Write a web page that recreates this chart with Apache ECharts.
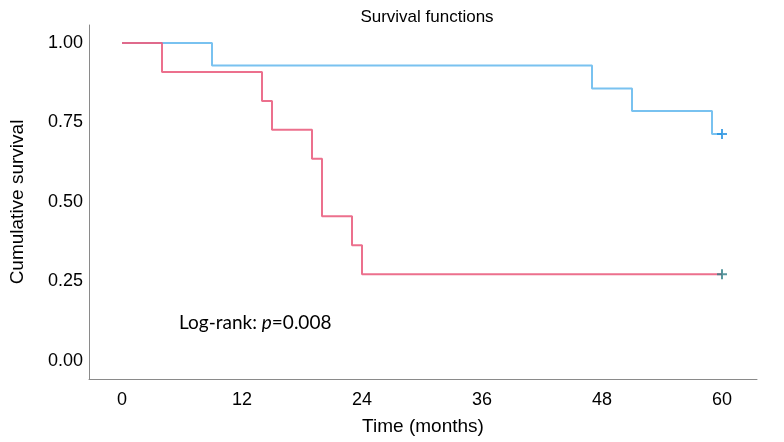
<!DOCTYPE html>
<html>
<head>
<meta charset="utf-8">
<script src="https://cdn.jsdelivr.net/npm/echarts@6/dist/echarts.min.js"></script>
<style>html,body{margin:0;padding:0;background:#fff}#c{width:784px;height:442px}</style>
</head>
<body>
<div id="c"></div>
<script>
// Kaplan-Meier step data (time in months, cumulative survival)
var blueTime = [0, 9, 47, 51, 59, 60];
var blueSurv = [1.000, 0.929, 0.857, 0.786, 0.714, 0.714];
var redTime = [0, 4, 14, 15, 19, 20, 23, 24, 60];
var redSurv = [1.000, 0.909, 0.818, 0.727, 0.636, 0.455, 0.364, 0.273, 0.273];
var blueCensorTime = [60];
var blueCensorSurv = [0.714];
var redCensorTime = [60];
var redCensorSurv = [0.273];
var xTicks = [0, 12, 24, 36, 48, 60];
var yTicks = [0, 0.25, 0.5, 0.75, 1.0];

function pairs(xs, ys) { return xs.map(function (x, i) { return [x, ys[i]]; }); }

var labelFont = '"Liberation Sans Narrow", "Liberation Sans", Arial, sans-serif';
var plus = 'path://M4,0H6V4H10V6H6V10H4V6H0V4H4Z';

var chart = echarts.init(document.getElementById('c'));
chart.setOption({
  animation: false,
  title: {
    text: 'Survival functions',
    left: 422, top: 4, textAlign: 'center',
    textStyle: { fontFamily: '"Liberation Sans", Arial, sans-serif', fontWeight: 'normal', fontSize: 17, color: '#000' }
  },
  grid: { left: 88, right: 27, top: 25, bottom: 63 },
  xAxis: {
    type: 'value', min: -3.3, max: 63.5,
    name: 'Time (months)', nameLocation: 'middle', nameGap: 38,
    nameTextStyle: { fontFamily: labelFont, fontSize: 19, color: '#000' },
    axisLine: { onZero: false, lineStyle: { color: '#8a8a8a', width: 1 } },
    axisTick: { show: false },
    splitLine: { show: false },
    axisLabel: { customValues: xTicks, margin: 12, fontFamily: labelFont, fontSize: 18, color: '#000' }
  },
  yAxis: {
    type: 'value', min: -0.0566, max: 1.0566,
    name: 'Cumulative survival', nameLocation: 'middle', nameGap: 62, nameRotate: 90,
    nameTextStyle: { fontFamily: labelFont, fontSize: 19, color: '#000' },
    axisLine: { show: true, onZero: false, lineStyle: { color: '#8a8a8a', width: 1 } },
    axisTick: { show: false },
    splitLine: { show: false },
    axisLabel: { customValues: yTicks, margin: 6, fontFamily: labelFont, fontSize: 18, color: '#000',
      formatter: function (v) { return v.toFixed(2); } }
  },
  graphic: [{
    type: 'text', left: 179, top: 313,
    style: {
      text: '{a|Log-rank: }{b|p}{a|=0.008}',
      rich: {
        a: { fontFamily: 'Lato, "Open Sans", sans-serif', fontSize: 19, fill: '#000' },
        b: { fontFamily: 'Lato, "Open Sans", sans-serif', fontSize: 19, fontStyle: 'italic', fill: '#000' }
      }
    }
  }],
  series: [
    { type: 'line', step: 'end', data: pairs(blueTime, blueSurv), symbol: 'none',
      lineStyle: { color: '#79c2f0', width: 2 }, z: 2 },
    { type: 'line', step: 'end', data: pairs(redTime, redSurv), symbol: 'none',
      lineStyle: { color: '#ea6081', width: 2, opacity: 0.9 }, z: 3 },
    { type: 'scatter', data: pairs(blueCensorTime, blueCensorSurv), symbol: plus, symbolSize: 10,
      itemStyle: { color: '#1f8ee0' }, z: 4 },
    { type: 'scatter', data: pairs(redCensorTime, redCensorSurv), symbol: plus, symbolSize: 10,
      itemStyle: { color: '#2e7d86' }, z: 4 }
  ]
});
</script>
</body>
</html>
